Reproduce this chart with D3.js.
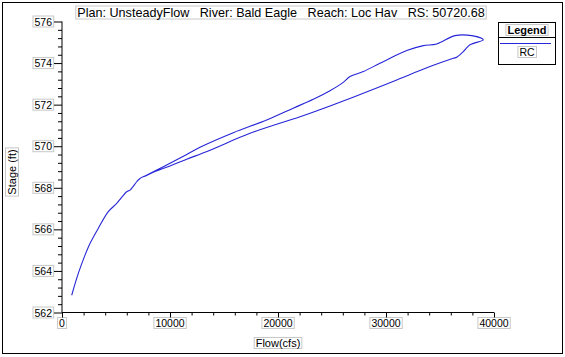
<!DOCTYPE html>
<html><head><meta charset="utf-8">
<script src="https://cdn.jsdelivr.net/npm/d3@7"></script>
<style>body{margin:0;background:#fff}svg{display:block}text{font-family:"Liberation Sans",Arial,sans-serif;white-space:pre}</style>
</head><body><svg id="c" width="565" height="357"></svg>
<script>
const titleText = "Plan: UnsteadyFlow   River: Bald Eagle   Reach: Loc Hav   RS: 50720.68";
const seriesName = "RC";
const xTicks = [0, 10000, 20000, 30000, 40000];
const yTicks = [562, 564, 566, 568, 570, 572, 574, 576];
const flow = [898,1509,2130,2593,3361,4287,5065,5991,6296,6917,7222,7685,8454,
  10000,11546,12778,15861,18954,21417,23269,24815,26046,26667,27898,29444,31917,33454,34694,36389,37935,39009,
  37778,37157,36546,36231,34074,30991,27898,24815,22037,17407,13704,11546,10000,8454,7685];
const stage = [562.83,563.88,564.76,565.32,566.05,566.85,567.25,567.81,567.89,568.29,568.45,568.57,568.77,
  569.18,569.60,569.95,570.65,571.26,571.83,572.26,572.67,573.07,573.35,573.59,573.99,574.60,574.84,574.92,575.32,575.32,575.12,
  574.88,574.55,574.28,574.23,573.83,573.19,572.55,571.94,571.42,570.62,569.81,569.37,569.05,568.75,568.55];

const svg = d3.select("#c");
const x = d3.scaleLinear().domain([0, 40000]).range([62, 494]);
const y = d3.scaleLinear().domain([562, 576]).range([312.5, 21.5]);
const boxCol = "#c8c8c8";

svg.append("rect").attr("x", 2.5).attr("y", 2.5).attr("width", 560).attr("height", 351)
  .attr("fill", "none").attr("stroke", "#000").attr("stroke-width", 1);

function boxedText(g, tx, ty, str, opts) {
  const t = g.append("text").attr("x", tx).attr("y", ty).text(str)
    .attr("font-size", opts.size).attr("text-anchor", opts.anchor || "middle")
    .attr("dominant-baseline", "central").attr("fill", "#000");
  if (opts.bold) t.attr("font-weight", "bold");
  if (opts.rotate) t.attr("transform", `rotate(-90,${tx},${ty})`);
  const b = t.node().getBBox();
  if (opts.box !== false) {
    let r;
    if (opts.rotate) {
      r = g.insert("rect", () => t.node()).attr("x", tx - b.height / 2 - 0.5).attr("y", ty - b.width / 2 - 1.5)
        .attr("width", b.height + 1).attr("height", b.width + 3);
    } else {
      r = g.insert("rect", () => t.node()).attr("x", b.x - 1.5).attr("y", b.y + 0.5)
        .attr("width", b.width + 3).attr("height", b.height - 1);
    }
    r.attr("fill", "#fff").attr("stroke", boxCol).attr("stroke-width", 1);
  }
  return t;
}

const g = svg.append("g");
boxedText(g, 281, 12.5, titleText, {size: 12.6});

const xAxis = d3.axisBottom(x).tickValues(d3.range(0, 40001, 2000)).tickSize(0).tickFormat("");
const xa = svg.append("g").attr("transform", "translate(0,312.5)").call(xAxis);
xa.select(".domain").attr("stroke", "#000").attr("d", "M62,0H494");
xa.selectAll(".tick line").attr("stroke", "#000")
  .attr("y2", d => xTicks.includes(d) ? 5 : 3);
const yAxis = d3.axisLeft(y).tickValues(d3.range(0, 36).map(i => 562 + i * 0.4)).tickSize(0).tickFormat("");
const ya = svg.append("g").attr("transform", "translate(62,0)").call(yAxis);
ya.select(".domain").attr("stroke", "#000").attr("d", "M0,21.5V312.5");
ya.selectAll(".tick line").attr("stroke", "#000")
  .attr("x2", d => yTicks.some(v => Math.abs(v - d) < 1e-6) ? -8 : -4);

xTicks.forEach(v => boxedText(g, x(v), 323, String(v), {size: 10.5}));
yTicks.forEach(v => boxedText(g, 52, y(v), String(v), {size: 10.5, anchor: "end"}));

boxedText(g, 278, 343, "Flow(cfs)", {size: 11});
boxedText(g, 12, 172, "Stage (ft)", {size: 11, rotate: true});

const pts = flow.map((f, i) => [f, stage[i]]);
svg.append("path").datum(pts)
  .attr("d", d3.line().x(d => x(d[0])).y(d => y(d[1])).curve(d3.curveCatmullRom.alpha(0.5)))
  .attr("fill", "none").attr("stroke", "#2626d8").attr("stroke-width", 1.1)
  .attr("stroke-linejoin", "round");

const lg = svg.append("g");
lg.append("rect").attr("x", 498.5).attr("y", 22.5).attr("width", 57).attr("height", 42)
  .attr("fill", "#fff").attr("stroke", "#000").attr("stroke-width", 1);
lg.append("line").attr("x1", 498.5).attr("x2", 555.5).attr("y1", 37.5).attr("y2", 37.5).attr("stroke", "#000");
boxedText(lg, 527, 30, "Legend", {size: 11, bold: true});
lg.append("line").attr("x1", 500).attr("x2", 551).attr("y1", 43.5).attr("y2", 43.5)
  .attr("stroke", "#2626d8").attr("stroke-width", 1.2);
boxedText(lg, 527, 52, seriesName, {size: 10.5});
</script></body></html>
